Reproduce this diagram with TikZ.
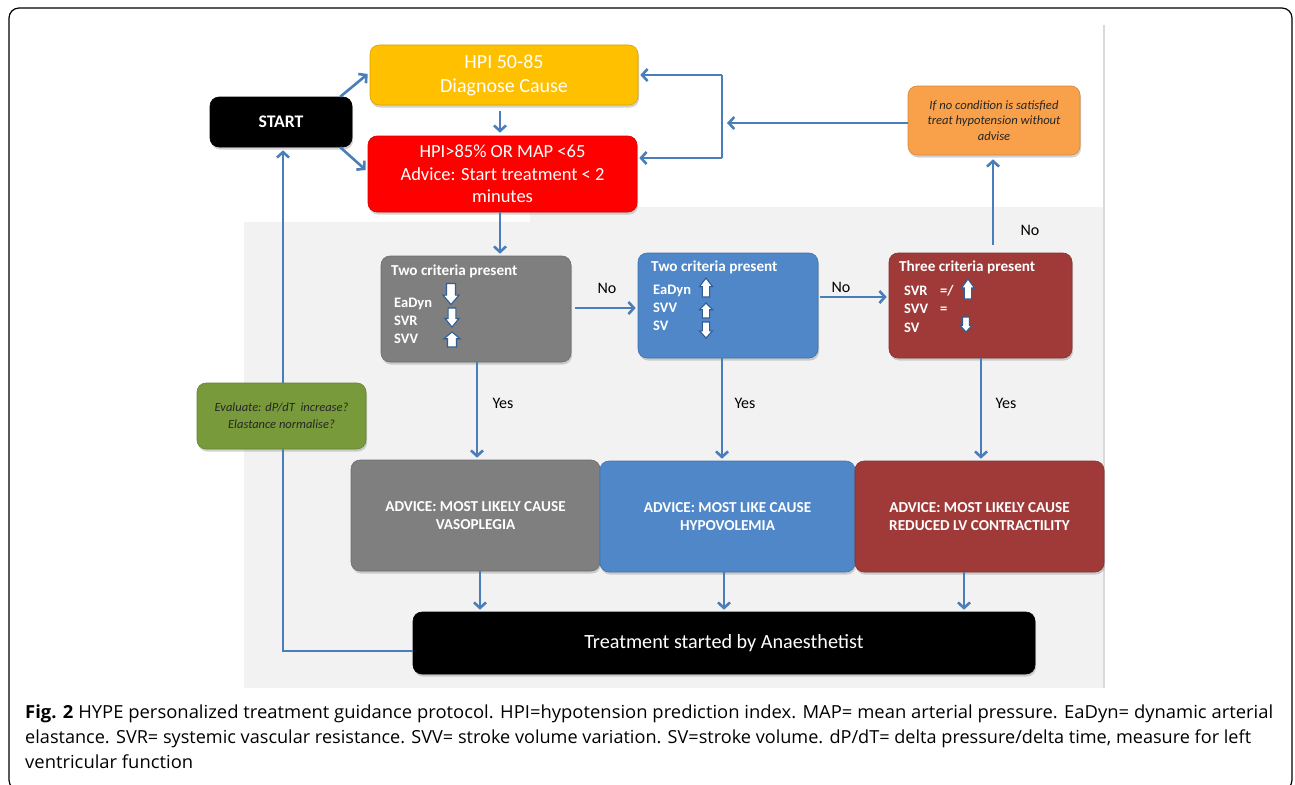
\documentclass[tikz,border=0pt]{standalone}
\usepackage{fontspec}
\setmainfont{Carlito}
\newfontfamily\capfont{Open Sans}
\usetikzlibrary{arrows.meta,calc,shadows}
\definecolor{conn}{HTML}{4A7EBB}
\definecolor{arrowline}{HTML}{2F5D95}
\definecolor{bggray}{HTML}{F2F2F2}
\definecolor{sepgray}{HTML}{D9D9D9}
\definecolor{cyellow}{HTML}{FFC000}
\definecolor{cred}{HTML}{FF0000}
\definecolor{corange}{HTML}{F9A04A}
\definecolor{cgray}{HTML}{7F7F7F}
\definecolor{cblue}{HTML}{4F87C9}
\definecolor{cdred}{HTML}{A03A38}
\definecolor{cgreen}{HTML}{789A3B}
\definecolor{darktext}{HTML}{262626}
\newsavebox\capboxA
\newsavebox\capboxB
\newsavebox\capboxC
\newcommand\blkarrow[5]{%
 \draw[barrowsty] ({#1-0.28*#4},{#2+#5*#3/2}) -- ({#1-0.28*#4},{#2-#5*0.05*#3}) -- ({#1-#4/2},{#2-#5*0.05*#3}) -- ({#1},{#2-#5*#3/2}) -- ({#1+#4/2},{#2-#5*0.05*#3}) -- ({#1+0.28*#4},{#2-#5*0.05*#3}) -- ({#1+0.28*#4},{#2+#5*#3/2}) -- cycle;}
\tikzset{
 box/.style={rounded corners=9pt, align=center, inner sep=2pt, line width=0.6pt,
   drop shadow={opacity=0.35, shadow xshift=1pt, shadow yshift=-2.5pt}},
 conn/.style={draw=conn, line width=2.6pt, -{Straight Barb[length=5.5pt,width=12pt]}},
 cline/.style={draw=conn, line width=2.6pt},
 lbl/.style={font=\fontsize{16}{18}\selectfont, text=black, inner sep=1pt},
 crit/.style={text=white, font=\bfseries\fontsize{14.5}{16}\selectfont, inner sep=0pt, anchor=base west},
 crittitle/.style={text=white, font=\bfseries\fontsize{15.2}{16}\selectfont, inner sep=0pt, anchor=base west},
 barrowsty/.style={draw=arrowline, fill=white, line width=1.1pt, line join=miter},
 capline/.style={anchor=base west, inner sep=0pt},
}
\begin{document}
\sbox\capboxA{\capfont\fontsize{18}{22}\selectfont\textbf{Fig. 2} HYPE personalized treatment guidance protocol. HPI=hypotension prediction index. MAP= mean arterial pressure. EaDyn= dynamic arterial}
\sbox\capboxB{\capfont\fontsize{18}{22}\selectfont elastance. SVR= systemic vascular resistance. SVV= stroke volume variation. SV=stroke volume. dP/dT= delta pressure/delta time, measure for left}
\sbox\capboxC{\capfont\fontsize{18}{22}\selectfont ventricular function}
\begin{tikzpicture}[x=1pt,y=-1pt]
\useasboundingbox (0,0) rectangle (1295,784);
\fill[white] (0,0) rectangle (1295,784);
% frame
\draw[line width=1.2pt, rounded corners=10pt] (9,8) rectangle (1292,790);
% gray background and separator
\fill[bggray] (244,222) rectangle (1105,688);
\fill[bggray] (530,207) rectangle (1105,222);
\draw[sepgray, line width=1.2pt] (1104,25) -- (1104,688);

% nodes
\node[box, fill=black, draw=black, minimum width=142pt, minimum height=50pt, text=white,
  font=\bfseries\fontsize{17.7}{20}\selectfont] (start) at (281,122) {START};
\node[box, fill=cyellow, draw=cyellow!85!black, minimum width=268pt, minimum height=60pt, text=white,
  font=\fontsize{20}{24}\selectfont] (yellow) at (504,75) {HPI 50-85\\Diagnose Cause};
\node[box, fill=cred, draw=cred!85!black, minimum width=269pt, minimum height=76pt, text=white,
  font=\fontsize{18.5}{22.5}\selectfont] (red) at (502.5,174) {HPI>85\% OR MAP <65\\Advice: Start treatment < 2\\minutes};
\node[box, fill=corange, draw=corange!85!black, minimum width=172pt, minimum height=69pt, text=darktext,
  font=\itshape\fontsize{12.6}{15.5}\selectfont] (orange) at (994,120.5) {If no condition is satisfied\\treat hypotension without\\advise};
\node[box, fill=cgray, draw=cgray!85!black, minimum width=190pt, minimum height=106pt] (graycrit) at (476,309) {};
\node[box, fill=cblue, draw=cblue!85!black, minimum width=180pt, minimum height=105pt] (bluecrit) at (728,305.5) {};
\node[box, fill=cdred, draw=cdred!85!black, minimum width=183pt, minimum height=105pt] (redcrit) at (980.5,305.5) {};
\node[box, fill=cgray, draw=cgray!85!black, minimum width=249pt, minimum height=111pt, text=white,
  font=\bfseries\fontsize{15.2}{17.5}\selectfont] (advgray) at (475.5,515.5) {ADVICE: MOST LIKELY CAUSE\\VASOPLEGIA};
\node[box, fill=cblue, draw=cblue!85!black, minimum width=255pt, minimum height=111pt, text=white,
  font=\bfseries\fontsize{15.2}{17.5}\selectfont] (advblue) at (727.5,516.5) {ADVICE: MOST LIKE CAUSE\\HYPOVOLEMIA};
\node[box, fill=cdred, draw=cdred!85!black, minimum width=249pt, minimum height=111pt, text=white,
  font=\bfseries\fontsize{15.2}{17.5}\selectfont] (advred) at (979.5,516.5) {ADVICE: MOST LIKELY CAUSE\\REDUCED LV CONTRACTILITY};
\node[box, fill=black, draw=black, minimum width=622pt, minimum height=62pt, text=white,
  font=\fontsize{20.2}{23}\selectfont] (treat) at (724,643) {Treatment started by Anaesthetist};

% criteria texts
\node[crittitle] (g1) at (391,275) {Two criteria present};
\node[crit] (g2) at (394,307) {EaDyn};
\node[crit] (g3) at (394,325) {SVR};
\node[crit] (g4) at (394,343) {SVV};
\blkarrow{451}{294}{21}{16}{-1}
\blkarrow{452}{317.5}{19}{14}{-1}
\blkarrow{452}{339.5}{15}{16}{1}

\node[crittitle] (b1) at (651,271) {Two criteria present};
\node[crit] (b2) at (653,294) {EaDyn};
\node[crit] (b3) at (653,312) {SVV};
\node[crit] (b4) at (653,330) {SV};
\blkarrow{706}{287.5}{19}{13}{1}
\blkarrow{706}{310.5}{15}{13}{1}
\blkarrow{706}{330}{16}{13}{-1}

\node[crittitle] (r1) at (899,271) {Three criteria present};
\node[crit] (r2) at (904,295) {SVR};
\node[crit] (r3) at (940,295) {=/};
\node[crit] (r4) at (904,313) {SVV};
\node[crit] (r5) at (940,313) {=};
\node[crit] (r6) at (904,332) {SV};
\blkarrow{968}{289}{20}{13}{1}
\blkarrow{966}{324.5}{15}{12}{-1}

% connectors
\draw[conn] ($(start.north east)+(-12,0)$) -- ($(yellow.west)+(-2,-1)$);
\draw[conn] ($(start.south east)+(-12,0)$) -- ($(red.west)+(-2,-4)$);
\draw[conn] ($(yellow.south)+(-4,6)$) -- ($(red.north)+(-2.5,-3)$);
\coordinate (lt) at (722,75);
\coordinate (lb) at (722,158);
\draw[cline] (lt) -- (lb);
\draw[conn] (lt) -- ($(yellow.east)+(2,0)$);
\draw[conn] (lb) -- ($(red.east |- lb)+(2,0)$);
\draw[conn] ($(orange.west)+(0,2.5)$) -- ($(lt |- orange.west)+(5,2.5)$);
\coordinate (rs) at ($(red.south)+(-2.5,0)$);
\draw[conn] (rs) -- ($(rs |- graycrit.north)+(0,-2)$);
\draw[conn] ($(graycrit.east)+(4,-1)$) -- ($(bluecrit.west |- graycrit.east)+(-2,-1)$);
\draw[conn] ($(bluecrit.east)+(2,-8.5)$) -- ($(redcrit.west |- bluecrit.east)+(-2,-8.5)$);
\draw[conn] ($(orange.south |- redcrit.north)+(-1,-8)$) -- ($(orange.south)+(-1,4)$);
\draw[conn] ($(graycrit.south)+(1,0)$) -- ($(graycrit.south |- advgray.north)+(1,-2)$);
\draw[conn] ($(bluecrit.south)+(-6,0)$) -- ($(bluecrit.south |- advblue.north)+(-6,-2)$);
\draw[conn] ($(redcrit.south)+(0.5,0)$) -- ($(redcrit.south |- advred.north)+(0.5,-2)$);
\draw[conn] ($(advgray.south)+(4.5,0)$) -- ($(advgray.south |- treat.north)+(4.5,-2)$);
\draw[conn] ($(advblue.south)+(-3.5,0)$) -- ($(advblue.south |- treat.north)+(-3.5,-2)$);
\draw[conn] ($(advred.south)+(-15.5,0)$) -- ($(advred.south |- treat.north)+(-15.5,-2)$);
\draw[conn] ($(treat.west)+(0,8)$) -| ($(start.south)+(2,3)$);

% green box (over the return line)
\node[box, fill=cgreen, draw=cgreen!85!black, minimum width=169pt, minimum height=66pt, text=darktext,
  font=\itshape\fontsize{12.5}{17}\selectfont] (green) at (281.5,416) {Evaluate: dP/dT\ \ increase?\\Elastance normalise?};

% labels
\node[lbl] (no1) at (607,288) {No};
\node[lbl] (no2) at (841,287) {No};
\node[lbl] (no3) at (1030,230) {No};
\node[lbl] (yes1) at (503,403) {Yes};
\node[lbl] (yes2) at (745,403) {Yes};
\node[lbl] (yes3) at (1006,403) {Yes};

% caption
\pgfmathsetmacro\capsa{1248/\wd\capboxA}
\pgfmathsetmacro\capsb{1226/\wd\capboxB}
\pgfmathsetmacro\capsc{168/\wd\capboxC}
\node[capline] (cap1) at (25,718) {\scalebox{\capsa}[1]{\usebox\capboxA}};
\node[capline] (cap2) at (25,743) {\scalebox{\capsb}[1]{\usebox\capboxB}};
\node[capline] (cap3) at (25,768) {\scalebox{\capsc}[1]{\usebox\capboxC}};
\end{tikzpicture}
\end{document}
